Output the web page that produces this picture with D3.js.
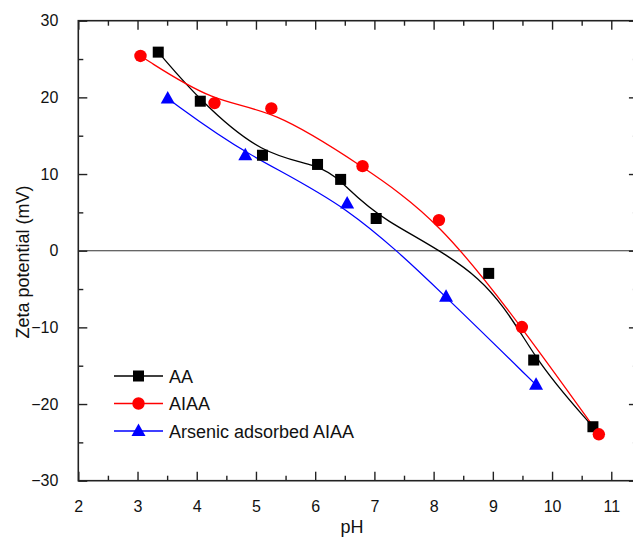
<!DOCTYPE html>
<html><head><meta charset="utf-8">
<script src="https://cdn.jsdelivr.net/npm/d3@7"></script>
<style>html,body{margin:0;padding:0;background:#fff;}svg{display:block;font-family:"Liberation Sans",Arial,sans-serif;}</style>
</head><body>
<svg id="chart" width="633" height="540"></svg>
<script>
const aaX = [3.35, 4.06, 5.11, 6.04, 6.43, 7.03, 8.93, 9.69, 10.69];
const aaY = [25.9, 19.5, 12.45, 11.25, 9.3, 4.2, -2.96, -14.26, -22.96];
const aiaaX = [3.05, 4.30, 5.26, 6.80, 8.09, 9.49, 10.79];
const aiaaY = [25.4, 19.25, 18.55, 11.03, 3.99, -9.96, -23.95];
const asX = [3.51, 4.82, 6.54, 8.21, 9.73];
const asY = [19.85, 12.46, 6.17, -6.0, -17.5];
const seriesNames = ["AA", "AIAA", "Arsenic adsorbed AIAA"];
const seriesColors = ["#000000", "#ff0000", "#0000ff"];
const seriesShapes = ["square", "circle", "triangle"];
const xTicks = [2, 3, 4, 5, 6, 7, 8, 9, 10, 11];
const yTicks = [-30, -20, -10, 0, 10, 20, 30];

const svg = d3.select("#chart");
const L = 78.3, T = 20.7, B = 480.7;
const x = d3.scaleLinear().domain([2, 11.45]).range([L, L + 9.45 * 59.22]);
const y = d3.scaleLinear().domain([-30, 30]).range([B, T]);
const R = x(11.45);

const series = [
  {pts: aaX.map((v, i) => [v, aaY[i]])},
  {pts: aiaaX.map((v, i) => [v, aiaaY[i]])},
  {pts: asX.map((v, i) => [v, asY[i]])}
];

// zero line
svg.append("line").attr("x1", L).attr("x2", R).attr("y1", y(0)).attr("y2", y(0))
  .attr("stroke", "#333").attr("stroke-width", 1.1);

const minorX = d3.range(2.5, 11.5, 1);
const minorY = d3.range(-25, 30, 10);

function tickAxis(gen, transform) {
  const g = svg.append("g").attr("transform", transform).call(gen);
  g.select(".domain").remove();
  g.selectAll(".tick line").attr("stroke", "#222").attr("stroke-width", 1.4);
  return g;
}
// bottom
const gb = tickAxis(d3.axisBottom(x).tickValues(xTicks).tickSizeInner(-9).tickSizeOuter(0).tickPadding(20).tickFormat(d3.format("d")), `translate(0,${B})`);
gb.selectAll("text").attr("font-size", 16).attr("fill", "#111").attr("font-family", "Liberation Sans, Arial, sans-serif");
tickAxis(d3.axisBottom(x).tickValues(minorX).tickSizeInner(-5).tickSizeOuter(0).tickFormat(""), `translate(0,${B})`);
// top
tickAxis(d3.axisTop(x).tickValues(xTicks).tickSizeInner(-9).tickSizeOuter(0).tickFormat(""), `translate(0,${T})`);
tickAxis(d3.axisTop(x).tickValues(minorX).tickSizeInner(-5).tickSizeOuter(0).tickFormat(""), `translate(0,${T})`);
// left
const gl = tickAxis(d3.axisLeft(y).tickValues(yTicks).tickSizeInner(-9).tickSizeOuter(0).tickPadding(20).tickFormat(d3.format("d")), `translate(${L},0)`);
gl.selectAll("text").attr("font-size", 16).attr("fill", "#111").attr("font-family", "Liberation Sans, Arial, sans-serif");
tickAxis(d3.axisLeft(y).tickValues(minorY).tickSizeInner(-5).tickSizeOuter(0).tickFormat(""), `translate(${L},0)`);
// right
tickAxis(d3.axisRight(y).tickValues(yTicks).tickSizeInner(-9).tickSizeOuter(0).tickFormat(""), `translate(${R},0)`);
tickAxis(d3.axisRight(y).tickValues(minorY).tickSizeInner(-5).tickSizeOuter(0).tickFormat(""), `translate(${R},0)`);

// frame
svg.append("rect").attr("x", L).attr("y", T).attr("width", R - L).attr("height", B - T)
  .attr("fill", "none").attr("stroke", "#222").attr("stroke-width", 1.6);

// curves (smoothed, approximating like the original)
const line = d3.line().x(d => x(d[0])).y(d => y(d[1])).curve(d3.curveBasis);
series.forEach((s, i) => {
  svg.append("path").attr("d", line(s.pts)).attr("fill", "none")
    .attr("stroke", seriesColors[i]).attr("stroke-width", 1.3);
});

function marker(g, shape, cx, cy, color) {
  if (shape === "square") {
    g.append("rect").attr("x", cx - 5.5).attr("y", cy - 5.5).attr("width", 11).attr("height", 11).attr("fill", color);
  } else if (shape === "circle") {
    g.append("circle").attr("cx", cx).attr("cy", cy).attr("r", 6.2).attr("fill", color);
  } else {
    g.append("path").attr("d", `M${cx},${cy - 7.5}L${cx + 7},${cy + 5}L${cx - 7},${cy + 5}Z`).attr("fill", color);
  }
}
const mg = svg.append("g");
series.forEach((s, i) => {
  s.pts.forEach(p => marker(mg, seriesShapes[i], x(p[0]), y(p[1]), seriesColors[i]));
});

// legend
const legY = [376, 403.5, 431];
seriesNames.forEach((n, i) => {
  svg.append("line").attr("x1", 114).attr("x2", 163).attr("y1", legY[i]).attr("y2", legY[i])
    .attr("stroke", seriesColors[i]).attr("stroke-width", 1.3);
  marker(svg, seriesShapes[i], 138.5, legY[i], seriesColors[i]);
  svg.append("text").attr("x", 169).attr("y", legY[i] + 6.5).attr("font-size", 18)
    .attr("fill", "#111").text(n);
});

// axis titles
svg.append("text").attr("x", 352).attr("y", 533).attr("text-anchor", "middle")
  .attr("font-size", 18).attr("fill", "#111").text("pH");
svg.append("text").attr("transform", "translate(29,262) rotate(-90)").attr("text-anchor", "middle")
  .attr("font-size", 18).attr("fill", "#111").text("Zeta potential (mV)");
</script>
</body></html>
